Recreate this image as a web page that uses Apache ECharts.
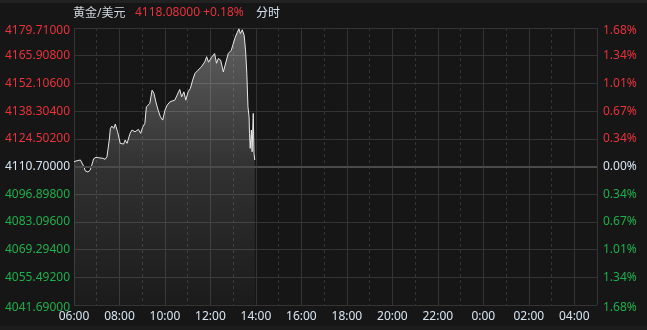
<!DOCTYPE html>
<html>
<head>
<meta charset="utf-8">
<script src="https://cdn.jsdelivr.net/npm/echarts@6/dist/echarts.min.js"></script>
<style>
html,body{margin:0;padding:0;background:#161616;}
#chart{width:647px;height:330px;}
</style>
</head>
<body>
<div id="chart"></div>
<script>
// ---- data ----
var basePrice = 4110.70;
var lastPrice = '4118.08000';
var lastChange = '+0.18%';
var times = ['06:00','06:08','06:17','06:21','06:26','06:30','06:37','06:43','06:47','06:52','06:58','07:05','07:09','07:16','07:22','07:27','07:31','07:33','07:36','07:40','07:45','07:49','07:51','07:55','07:58','08:02','08:06','08:11','08:15','08:20','08:24','08:28','08:33','08:41','08:50','08:56','09:01','09:07','09:11','09:20','09:26','09:31','09:36','09:42','09:48','09:54','10:00','10:06','10:13','10:17','10:26','10:32','10:39','10:44','10:50','10:55','11:01','11:07','11:13','11:19','11:27','11:36','11:45','11:50','11:55','12:03','12:11','12:16','12:21','12:27','12:34','12:41','12:47','12:55','13:00','13:05','13:11','13:15','13:19','13:24','13:29','13:33','13:36','13:39','13:42','13:43','13:45','13:48','13:50','13:53','13:55','13:57'];
var prices = [4113.09,4113.58,4113.93,4113.09,4110.60,4108.46,4107.96,4108.96,4111.44,4114.58,4115.27,4115.07,4115.57,4114.78,4114.28,4115.57,4116.42,4123.87,4129.69,4130.84,4129.69,4131.83,4130.49,4128.00,4127.50,4122.23,4123.03,4121.89,4123.87,4122.23,4123.03,4127.21,4128.85,4128.00,4129.19,4127.21,4130.19,4132.18,4140.43,4142.12,4148.73,4147.09,4142.92,4138.79,4135.46,4133.82,4138.79,4141.28,4142.92,4142.12,4143.76,4146.25,4149.08,4145.40,4147.89,4143.76,4147.89,4149.58,4153.71,4157.04,4158.68,4160.32,4162.81,4165.39,4162.66,4165.14,4166.98,4162.16,4164.50,4163.65,4157.83,4162.81,4166.98,4168.62,4169.47,4174.84,4177.57,4179.31,4176.93,4178.82,4176.08,4167.78,4157.04,4140.43,4135.31,4127.21,4119.75,4128.85,4118.06,4137.15,4117.26,4113.93];
var xLabels = ['06:00','08:00','10:00','12:00','14:00','16:00','18:00','20:00','22:00','0:00','02:00','04:00'];
var leftLabels = ['4041.69000','4055.49200','4069.29400','4083.09600','4096.89800','4110.70000','4124.50200','4138.30400','4152.10600','4165.90800','4179.71000'];
var rightLabels = ['1.68%','1.34%','1.01%','0.67%','0.34%','0.00%','0.34%','0.67%','1.01%','1.34%','1.68%'];

// ---- helpers ----
var RED = '#e8323c', GREEN = '#1bb04c', WHITE = '#d7e5f2', GRID = '#343434';
var yStep = 13.802, yMin = -69.01, yMax = 69.01;
function toMin(t){ var p = t.split(':'); var m = (+p[0])*60 + (+p[1]) - 360; if (m < 0) m += 1440; return m; }
function yIdx(v){ return Math.round((parseFloat(v) - yMin) / yStep); }
function yColor(v){ var i = yIdx(v); return i > 5 ? RED : (i < 5 ? GREEN : WHITE); }
function yText(arr){
  return function(v){
    var i = yIdx(v), s = arr[i] || '';
    if (i === 10) return '{mx|' + s + '}';
    if (i === 0) return '{mn|' + s + '}';
    return s;
  };
}
var edgeRich = { mx:{ padding:[6,0,0,0], fontSize:12 }, mn:{ padding:[5,0,0,0], fontSize:12 } };
var seriesData = times.map(function(t, i){ return [toMin(t), +(prices[i] - basePrice).toFixed(4)]; });

var chart = echarts.init(document.getElementById('chart'), null, {renderer:'canvas'});
var font = '"Noto Sans", "Noto Sans CJK SC", sans-serif';
chart.setOption({
  backgroundColor: '#161616',
  animation: false,
  textStyle: { fontFamily: font },
  grid: { left: 74, right: 50, top: 28, bottom: 25 },
  graphic: [
    { type:'rect', left:0, top:0, shape:{width:647, height:3}, style:{fill:'#222222'}, silent:true },
    { type:'rect', left:0, top:326, shape:{width:647, height:4}, style:{fill:'#1c1c1c'}, silent:true },
    { type:'text', left:73, top:8, style:{ text:'黄金/美元', fill:'#cfd5db', font:'12px ' + font } },
    { type:'text', left:135, top:7, style:{ text:lastPrice + ' ' + lastChange, fill:RED, font:'12px ' + font } },
    { type:'text', left:256, top:8, style:{ text:'分时', fill:'#d5e3f0', font:'12px ' + font } }
  ],
  xAxis: [
    {
      type:'value', min:0, max:1380, interval:120, position:'bottom',
      axisLine:{show:false}, axisTick:{show:false},
      axisLabel:{ margin:6, color:WHITE, fontSize:12, fontFamily:font,
        showMaxLabel:false,
        formatter:function(v){ var i = Math.round(v/120); return (i*120 === v && xLabels[i]) ? xLabels[i] : ''; } },
      splitLine:{ show:true, lineStyle:{ color:GRID, width:1, type:'solid' } }
    },
    {
      type:'value', min:0, max:1380, interval:60, position:'top',
      axisLine:{show:false}, axisTick:{show:false}, axisLabel:{show:false},
      splitLine:{ show:true, lineStyle:{ color:GRID, width:1, type:[3,3] } }
    }
  ],
  yAxis: [
    {
      type:'value', min:yMin, max:yMax, interval:yStep, position:'left',
      axisLine:{show:false}, axisTick:{show:false},
      axisLabel:{ margin:4, fontSize:12, fontFamily:font, rich:edgeRich,
        formatter:yText(leftLabels),
        color:function(v){ return yColor(v); } },
      splitLine:{ show:true, lineStyle:{ color:GRID, width:1 } }
    },
    {
      type:'value', min:yMin, max:yMax, interval:yStep, position:'right',
      axisLine:{show:false}, axisTick:{show:false},
      axisLabel:{ margin:6, fontSize:12, fontFamily:font, rich:edgeRich,
        formatter:yText(rightLabels),
        color:function(v){ return yColor(v); } },
      splitLine:{ show:false }
    }
  ],
  series: [{
    type:'line', xAxisIndex:0, yAxisIndex:0,
    data: seriesData,
    showSymbol:false, symbol:'none',
    lineStyle:{ color:'#e8e8e8', width:1 },
    areaStyle:{ origin:'start',
      color: new echarts.graphic.LinearGradient(0,0,0,1,[
        {offset:0, color:'rgba(255,255,255,0.46)'},
        {offset:0.5, color:'rgba(255,255,255,0.17)'},
        {offset:1, color:'rgba(255,255,255,0.03)'}
      ]) },
    markLine:{ silent:true, symbol:['none','none'], label:{show:false},
      lineStyle:{ color:'#4a4a4a', width:2, type:'solid' },
      data:[ { yAxis:0 } ] }
  }]
});
</script>
</body>
</html>
